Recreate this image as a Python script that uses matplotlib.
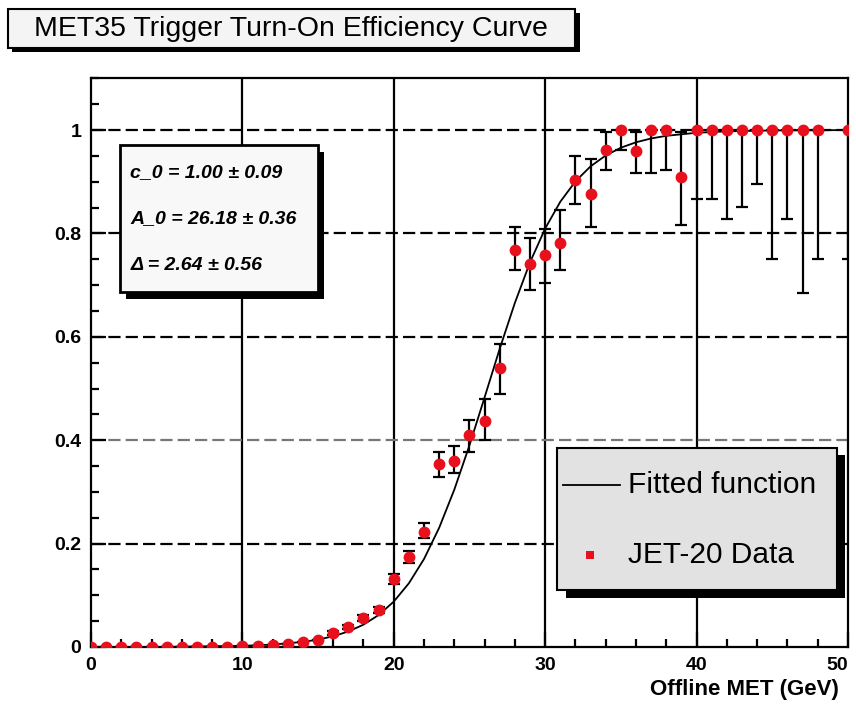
import numpy as np
import matplotlib
matplotlib.use("Agg")
import matplotlib.pyplot as plt
from matplotlib.patches import Rectangle
from matplotlib.lines import Line2D

plt.rcParams["font.family"] = ["Liberation Sans", "DejaVu Sans"]

# data
met = [0, 1, 2, 3, 4, 5, 6, 7, 8, 9, 10, 11, 12, 13, 14, 15, 16, 17, 18, 19,
       20, 21, 22, 23, 24, 25, 26, 27, 28, 29, 30, 31, 32, 33, 34, 35, 36, 37, 38, 39,
       40, 41, 42, 43, 44, 45, 46, 47, 48, 50]
eff = [0, 0, 0, 0, 0, 0, 0, 0, 0, 0, 0.001, 0.002, 0.004, 0.006, 0.010, 0.014, 0.027, 0.039, 0.056, 0.072,
       0.132, 0.174, 0.222, 0.354, 0.360, 0.410, 0.438, 0.540, 0.768, 0.740, 0.758, 0.781, 0.903, 0.877, 0.961, 1.0, 0.959, 1.0, 1.0, 0.910,
       1.0, 1.0, 1.0, 1.0, 1.0, 1.0, 1.0, 1.0, 1.0, 1.0]
err_lo = [0, 0, 0, 0, 0, 0, 0, 0, 0, 0, 0, 0, 0, 0, 0, 0, 0.003, 0.004, 0.005, 0.006,
          0.010, 0.012, 0.012, 0.025, 0.023, 0.033, 0.038, 0.051, 0.039, 0.050, 0.054, 0.052, 0.046, 0.065, 0.038, 0.039, 0.042, 0.083, 0.077, 0.094,
          0.133, 0.133, 0.172, 0.149, 0.104, 0.250, 0.172, 0.315, 0.250, 0.250]
err_hi = [0, 0, 0, 0, 0, 0, 0, 0, 0, 0, 0, 0, 0, 0, 0, 0, 0.003, 0.004, 0.005, 0.006,
          0.010, 0.012, 0.018, 0.023, 0.029, 0.029, 0.041, 0.046, 0.044, 0.051, 0.050, 0.064, 0.047, 0.067, 0.035, 0.0, 0.037, 0.0, 0.0, 0.086,
          0, 0, 0, 0, 0, 0, 0, 0, 0, 0]

fit_x = [0, 5, 10, 12, 14, 15, 16, 17, 18, 19, 20, 21, 22, 23, 24, 25, 26, 27, 28, 29,
         30, 31, 32, 33, 34, 35, 36, 37, 38, 40, 42, 45, 50]
fit_y = [0.0, 0.0003, 0.0022, 0.0046, 0.0098, 0.0143, 0.0207, 0.0300, 0.0432, 0.0618, 0.0878, 0.1233, 0.1703, 0.2307, 0.3045, 0.3901, 0.4830, 0.5771, 0.6657, 0.7441,
         0.8095, 0.8613, 0.9007, 0.9298, 0.9508, 0.9658, 0.9763, 0.9837, 0.9888, 0.9947, 0.9975, 0.9992, 0.9999]

x_ticks = [0, 10, 20, 30, 40, 50]
fit_params = ["c_0 = 1.00 \u00b1 0.09", "A_0 = 26.18 \u00b1 0.36", "\u0394 = 2.64 \u00b1 0.56"]

RED = "#e8101c"

fig = plt.figure(figsize=(8.56, 7.07), dpi=100)
ax = fig.add_axes([0.1063, 0.0849, 0.8843, 0.8043])
ax.set_xlim(0, 50)
ax.set_ylim(0, 1.1)

# grid: solid verticals, dashed horizontals
for gx in [10, 20, 30, 40]:
    ax.axvline(gx, color="black", lw=1.6, zorder=1)
for gy in [0.2, 0.4, 0.6, 0.8, 1.0]:
    ax.axhline(gy, color="#777777" if gy == 0.4 else "black", lw=1.6,
               dashes=(5.5, 2.3), zorder=1)

ax.plot(fit_x, fit_y, color="black", lw=1.3, zorder=3)
ax.errorbar(met, eff, yerr=[err_lo, err_hi], fmt="none", ecolor="black",
            elinewidth=1.6, capsize=4, capthick=1.6, zorder=4)
ax.plot(met, eff, "o", color=RED, markersize=8.5, markeredgewidth=0, zorder=5)

ax.set_xticks(x_ticks, labels=[str(t) for t in x_ticks])
ax.xaxis.set_minor_locator(plt.MultipleLocator(2))
ax.yaxis.set(major_locator=plt.MultipleLocator(0.2), minor_locator=plt.MultipleLocator(0.05),
             major_formatter=plt.FuncFormatter(lambda v, p: f"{v:g}"))
ax.tick_params(which="both", direction="in", width=1.6, top=False, right=False,
               labelsize=14)
ax.tick_params(which="major", length=11, pad=7)
ax.tick_params(which="minor", length=6)
for lab in ax.get_xticklabels() + ax.get_yticklabels():
    lab.set_fontweight("bold")
# last x label sits at the figure edge: keep it inside
ax.xaxis.get_major_ticks()[-1].label1.set_horizontalalignment("right")
for s in ax.spines.values():
    s.set_linewidth(1.6)

fig.text(0.980, 0.025, "Offline MET (GeV)", ha="right", va="center",
         fontsize=16, fontweight="bold")

# title box with shadow
fig.patches.append(Rectangle((0.0140, 0.926), 0.664, 0.056, transform=fig.transFigure,
                             facecolor="black", edgecolor="none", zorder=0))
fig.patches.append(Rectangle((0.0093, 0.932), 0.663, 0.055, transform=fig.transFigure,
                             facecolor="#f4f4f4", edgecolor="black", lw=1.5, zorder=1))
fig.text(0.340, 0.9595, "MET35 Trigger Turn-On Efficiency Curve", ha="center", va="center",
         fontsize=20.5, zorder=2)

# fit parameter box
ax.add_patch(Rectangle((0.046, 0.612), 0.262, 0.259, transform=ax.transAxes,
                       facecolor="black", edgecolor="none", zorder=6))
ax.add_patch(Rectangle((0.038, 0.624), 0.262, 0.259, transform=ax.transAxes,
                       facecolor="#f8f8f8", edgecolor="black", lw=2, zorder=7))
for i, txt in enumerate(fit_params):
    ax.text(0.052, 0.835 - 0.082 * i, txt, transform=ax.transAxes, ha="left", va="center",
            fontsize=14, fontweight="bold", fontstyle="italic", zorder=8)

# legend box
ax.add_patch(Rectangle((0.627, 0.087), 0.369, 0.250, transform=ax.transAxes,
                       facecolor="black", edgecolor="none", zorder=6, clip_on=False))
ax.add_patch(Rectangle((0.616, 0.100), 0.369, 0.250, transform=ax.transAxes,
                       facecolor="#e2e2e2", edgecolor="black", lw=1.5, zorder=7))
ax.add_line(Line2D([0.623, 0.699], [0.285, 0.285], transform=ax.transAxes,
                   color="black", lw=1.3, zorder=8))
ax.plot([0.659], [0.162], "s", color=RED, markersize=6, markeredgewidth=0,
        transform=ax.transAxes, zorder=8)
ax.text(0.709, 0.285, "Fitted function", transform=ax.transAxes, ha="left", va="center",
        fontsize=21.5, zorder=8)
ax.text(0.709, 0.162, "JET-20 Data", transform=ax.transAxes, ha="left", va="center",
        fontsize=21.5, zorder=8)

fig.savefig("out.png", dpi=100)
